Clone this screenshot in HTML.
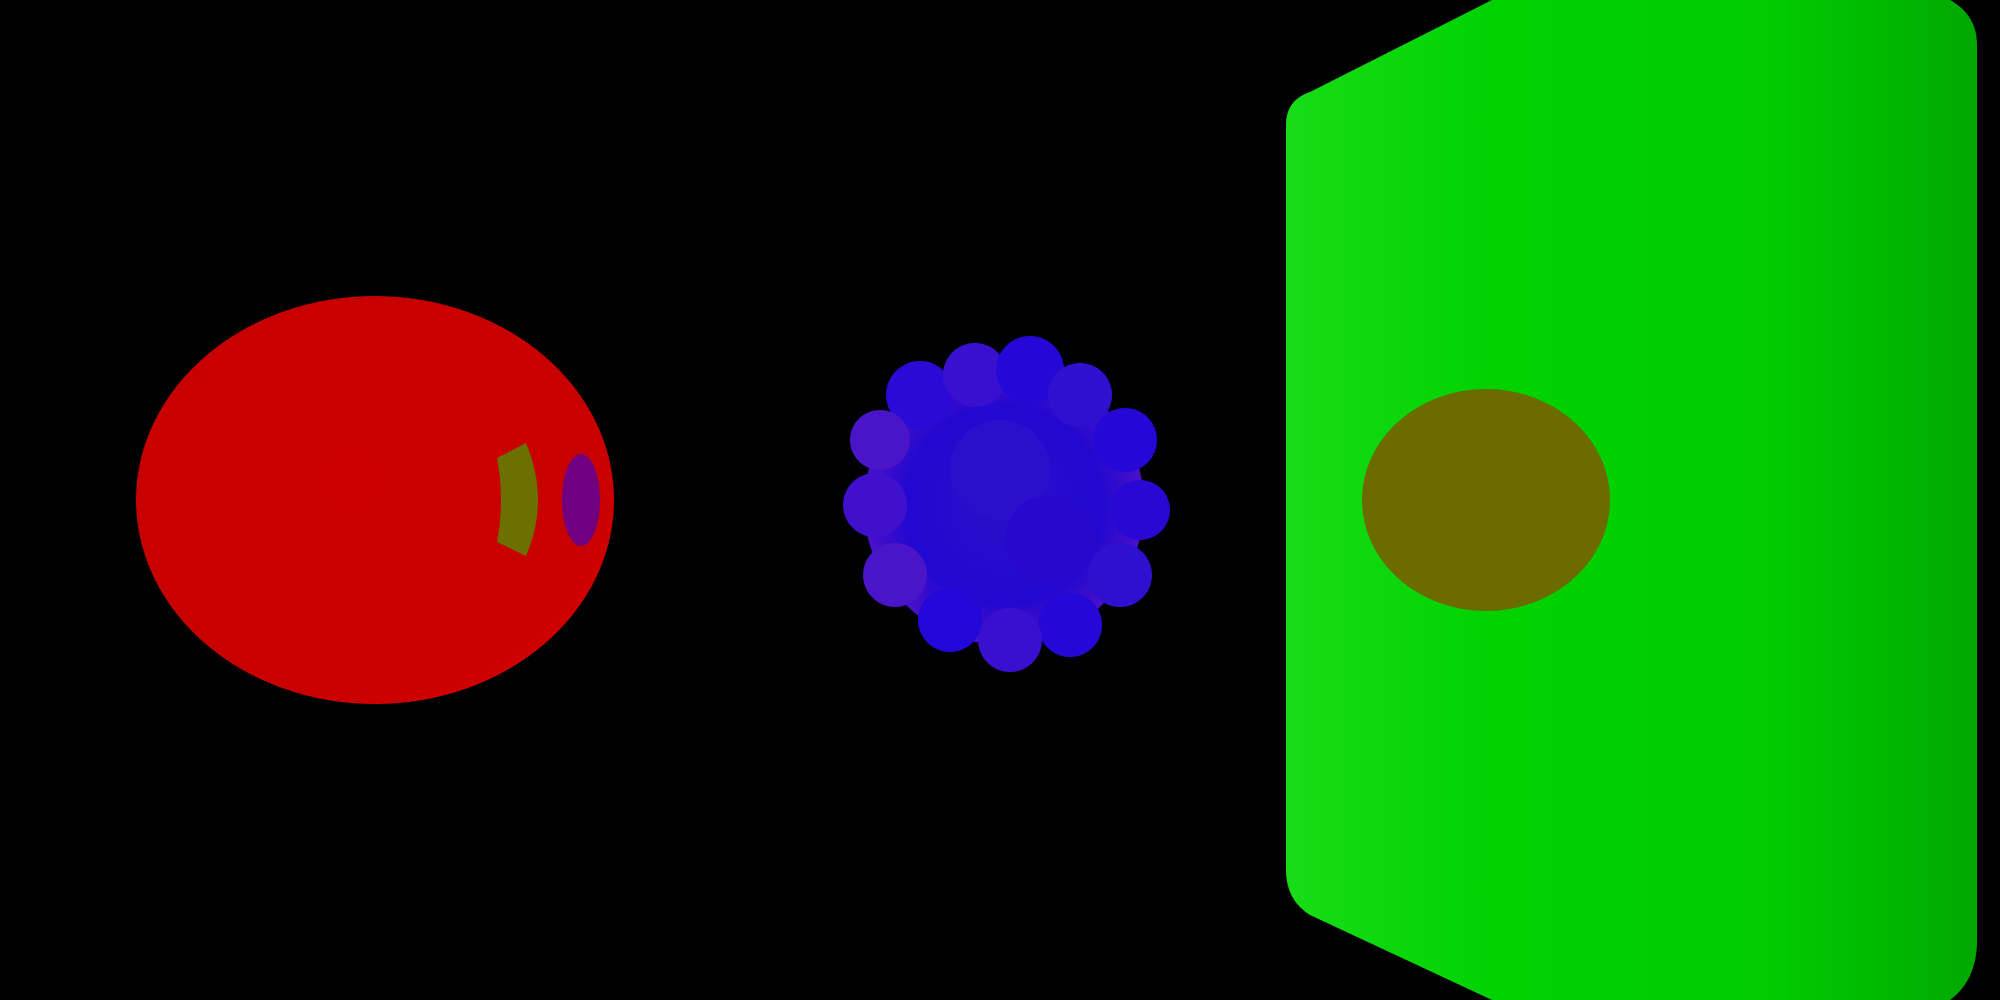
<!DOCTYPE html>
<html><head><meta charset="utf-8"><style>
html,body{margin:0;padding:0;background:#000;width:2000px;height:1000px;overflow:hidden}
svg{display:block}
</style></head><body>
<svg width="2000" height="1000" viewBox="0 0 2000 1000">
<defs>
<radialGradient id="rg" cx="0.45" cy="0.45" r="0.6">
<stop offset="0" stop-color="#cc0000"/><stop offset="0.85" stop-color="#c80000"/><stop offset="1" stop-color="#d40000"/>
</radialGradient>
<linearGradient id="gg" x1="0" y1="0" x2="1" y2="0">
<stop offset="0" stop-color="#18dc18"/><stop offset="0.3" stop-color="#00d200"/><stop offset="0.7" stop-color="#00cc00"/><stop offset="1" stop-color="#00a800"/>
</linearGradient>
<radialGradient id="bg" cx="0.5" cy="0.5" r="0.5">
<stop offset="0" stop-color="#2a10c8"/><stop offset="0.7" stop-color="#2208d0"/><stop offset="1" stop-color="#4a10c8"/>
</radialGradient>
</defs>
<rect width="2000" height="1000" fill="#000"/>
<g>
<ellipse cx="375" cy="500" rx="239" ry="204" fill="url(#rg)"/>
<path d="M497 458 L526 443 Q550 500 526 556 L497 542 Q505 500 497 458 Z" fill="#6b7000"/>
<ellipse cx="581" cy="500" rx="19" ry="46" fill="#700080"/>
</g>
<g>
<circle cx="1004" cy="505" r="140" fill="url(#bg)"/>
<circle cx="920" cy="395" r="34" fill="#2a0ad4"/>
<circle cx="975" cy="375" r="32" fill="#3a10d0"/>
<circle cx="1030" cy="370" r="34" fill="#2508d8"/>
<circle cx="1080" cy="395" r="32" fill="#3010d0"/>
<circle cx="1125" cy="440" r="32" fill="#2508d8"/>
<circle cx="1140" cy="510" r="30" fill="#2a08d4"/>
<circle cx="1120" cy="575" r="32" fill="#3010d0"/>
<circle cx="1070" cy="625" r="32" fill="#2508d8"/>
<circle cx="1010" cy="640" r="32" fill="#3a10d0"/>
<circle cx="950" cy="620" r="32" fill="#2208d8"/>
<circle cx="895" cy="575" r="32" fill="#4a14c8"/>
<circle cx="875" cy="505" r="32" fill="#4010cc"/>
<circle cx="880" cy="440" r="30" fill="#4a14c8"/>
<circle cx="1000" cy="470" r="50" fill="#2a10cc"/>
<circle cx="1050" cy="540" r="45" fill="#2808cc"/>
</g>
<g>
<path d="M1310 92 L1492 0 L1950 0 Q1977 15 1977 45 L1977 940 Q1977 980 1950 1000 L1492 1000 L1310 915 Q1286 900 1286 870 L1286 125 Q1286 100 1310 92 Z" fill="url(#gg)"/>
<ellipse cx="1486" cy="500" rx="124" ry="111" fill="#6b6b00"/>
</g>
</svg>
</body></html>
